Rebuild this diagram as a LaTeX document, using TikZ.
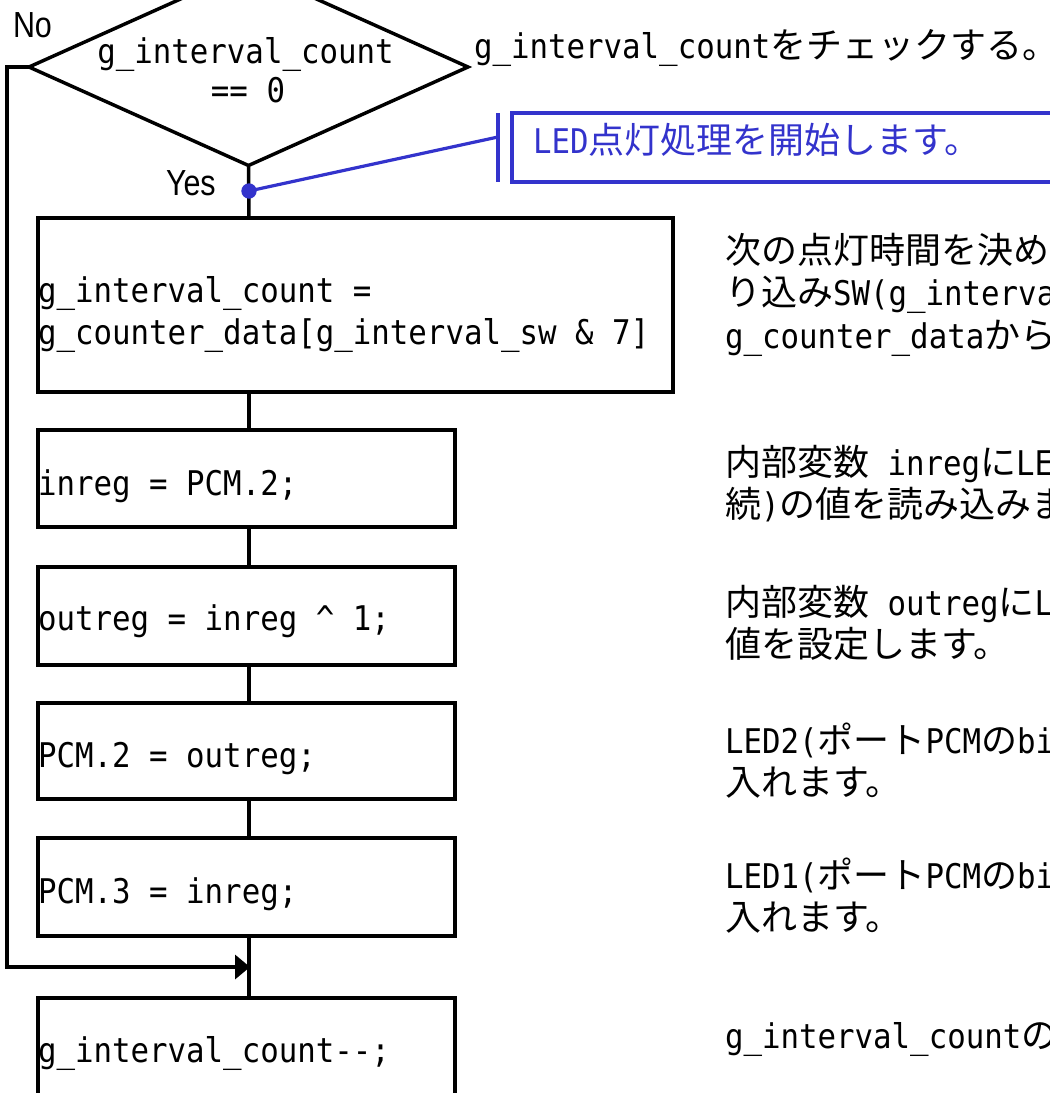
\documentclass[tikz,border=0pt]{standalone}
\usepackage{fontspec}
\setmainfont{DejaVu Sans Mono}[FakeStretch=0.905]
\newfontfamily\jpfont{Noto Sans CJK JP}[Scale=1.0588]
\newfontfamily\ynfont{Liberation Sans}[FakeStretch=0.84]
\usetikzlibrary{shapes.geometric,arrows.meta}
\definecolor{cblue}{RGB}{51,51,204}
\newcommand\J[1]{{\jpfont #1}}
\newcommand\codefont{\fontsize{25.5pt}{31.9pt}\selectfont}
\newcommand\ynsize{\fontsize{27.2pt}{30pt}\ynfont}
\newcommand\twolines[2]{\vtop{\baselineskip=31.9pt\lineskiplimit=-50pt\hbox{#1}\hbox{#2}}}
\newcommand\threelines[3]{\vtop{\baselineskip=31.9pt\lineskiplimit=-50pt\hbox{#1}\hbox{#2}\hbox{#3}}}
\begin{document}
\begin{tikzpicture}[x=0.75pt,y=-0.75pt,line width=2.6pt,
  every node/.style={inner sep=0pt,outer sep=0pt},
  box/.style={draw,rectangle,line width=2.6pt,minimum width=312.75pt},
  code/.style={anchor=base west,font=\codefont},
  note/.style={anchor=base west,font=\codefont},
  flow/.style={draw=black,line width=2.6pt},
  bl/.style={draw=cblue,line width=2.4pt}]
\useasboundingbox (0,0) rectangle (1050,1093);
\clip (0,0) rectangle (1050,1093);
\fill[white] (0,0) rectangle (1050,1093);

% decision
\node[diamond,draw,line width=2.6pt,minimum width=329.25pt,minimum height=147.75pt] (dec) at (248.5,67) {};
\node[code,anchor=base] (dect1) at (245.5,63) {g\_interval\_count};
\node[code,anchor=base] (dect2) at (248,102) {== 0};
\node[anchor=base west,font=\ynsize] (no) at (13,37) {No};
\node[anchor=base west,font=\ynsize] (yes) at (166,195) {Yes};
\node[note] (cdec) at (474,58) {g\_interval\_count\J{をチェックする。}};

\coordinate (col) at (249,0);

% process boxes
\node[box,minimum width=476.25pt,minimum height=130.5pt] (b1) at (355.5,305) {};
\node[code] (t1) at (38,302) {\twolines{g\_interval\_count =}{g\_counter\_data[g\_interval\_sw \& 7]}};
\node[box,minimum height=72.75pt] (b2) at (246.5,478.5) {};
\node[code] (t2) at (38,495) {inreg = PCM.2;};
\node[box,minimum height=73.5pt] (b3) at (246.5,616) {};
\node[code] (t3) at (38,630) {outreg = inreg \textasciicircum{} 1;};
\node[box,minimum height=72pt] (b4) at (246.5,751) {};
\node[code] (t4) at (38,767) {PCM.2 = outreg;};
\node[box,minimum height=73.5pt] (b5) at (246.5,887) {};
\node[code] (t5) at (38,903) {PCM.3 = inreg;};
\node[box,minimum height=84pt] (b6) at (246.5,1054) {};
\node[code] (t6) at (38,1062) {g\_interval\_count-{}-;};

% connectors
\draw[flow] (dec.south) -- (col |- b1.north);
\draw[flow] (col |- b1.south) -- (col |- b2.north);
\draw[flow] (col |- b2.south) -- (col |- b3.north);
\draw[flow] (col |- b3.south) -- (col |- b4.north);
\draw[flow] (col |- b4.south) -- (col |- b5.north);
\draw[flow] (col |- b5.south) -- (col |- b6.north);
\coordinate (n1) at (7,67);
\coordinate (n2) at (7,967);
\coordinate (jn) at (250,967);
\draw[flow,-{Triangle[length=11.25pt,width=18pt]}] (dec.west) -- (n1) -- (n2) -- (jn);

% blue comment
\node[draw=cblue,line width=2.4pt,minimum width=418.5pt,minimum height=51.75pt] (cmt) at (791,147.5) {};
\node[note,text=cblue] (cmtt) at (533,153) {LED\J{点灯処理を開始します。}};
\coordinate (bt) at (498,113);
\coordinate (bb) at (498,182);
\coordinate (bm) at (498,137);
\draw[bl] (bt) -- (bb);
\node[circle,fill=cblue,minimum size=11.5pt] (ydot) at (249,191) {};
\draw[bl] (ydot.center) -- (bm);

% right-hand notes
\node[note] (c1) at (725,263) {\threelines{\J{次の点灯時間を決め}}{\J{り込み}SW(g\_interva}{g\_counter\_data\J{から}}};
\node[note] (c2) at (725,475) {\twolines{\J{内部変数} inreg\J{に}LE}{\J{続}){\jpfont の値を読み込みま}}};
\node[note] (c3) at (725,615) {\twolines{\J{内部変数} outreg\J{に}L}{\J{値を設定します。}}};
\node[note] (c4) at (725,753) {\twolines{LED2(\J{ポート}PCM\J{の}bi}{\J{入れます。}}};
\node[note] (c5) at (725,888) {\twolines{LED1(\J{ポート}PCM\J{の}bi}{\J{入れます。}}};
\node[note] (c6) at (725,1048) {g\_interval\_count\J{の}};
\end{tikzpicture}
\end{document}
